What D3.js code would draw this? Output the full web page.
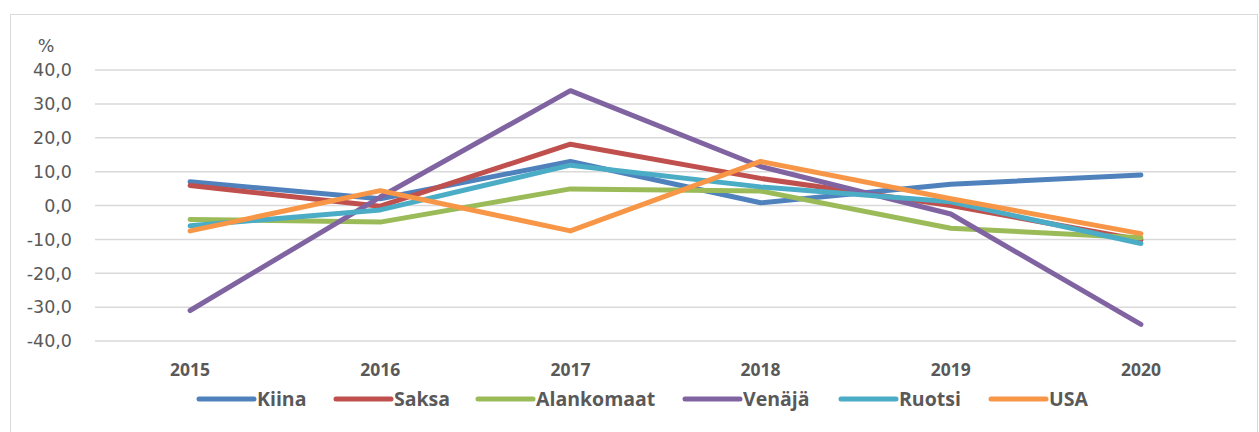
<!DOCTYPE html>
<html>
<head>
<meta charset="utf-8">
<script src="https://cdn.jsdelivr.net/npm/d3@7"></script>
<style>
  body { margin: 0; background: #fff; }
  svg { display: block; }
  .ytick { font-family: "DejaVu Sans", sans-serif; font-size: 17.5px; fill: #595959; }
  .xtick { font-family: "Open Sans", sans-serif; font-weight: bold; font-size: 17.5px; fill: #595959; }
  .legend-text { font-family: "Open Sans", sans-serif; font-weight: bold; font-size: 19.5px; fill: #595959; }
</style>
</head>
<body>
<script>
const years = ['2015', '2016', '2017', '2018', '2019', '2020']
const seriesNames = ['Kiina', 'Saksa', 'Alankomaat', 'Venäjä', 'Ruotsi', 'USA']
const kiina = [7.0, 2.0, 13.0, 0.8, 6.3, 9.0]
const saksa = [5.9, -0.2, 18.1, 8.0, 0.0, -10.2]
const alankomaat = [-4.1, -4.9, 4.9, 4.3, -6.7, -9.5]
const venaja = [-31.0, 2.5, 33.9, 11.5, -2.5, -35.1]
const ruotsi = [-6.0, -1.3, 11.9, 5.5, 1.1, -11.2]
const usa = [-7.5, 4.4, -7.5, 13.0, 2.0, -8.3]
const yTicks = [40, 30, 20, 10, 0, -10, -20, -30, -40]

const colors = ['#4F81BD', '#C0504D', '#9BBB59', '#8064A2', '#4BACC6', '#F79646']
const allValues = [kiina, saksa, alankomaat, venaja, ruotsi, usa]

const fullWidth = 1259
const fullHeight = 432
const plot = { left: 95, right: 1236, top: 70, bottom: 341 }

const svg = d3.select('body')
  .append('svg')
  .attr('width', fullWidth)
  .attr('height', fullHeight)

// chart frame
svg.append('rect')
  .attr('x', 10.5)
  .attr('y', 14.5)
  .attr('width', 1247)
  .attr('height', 430)
  .attr('fill', '#fff')
  .attr('stroke', '#d9d9d9')
  .attr('stroke-width', 1)

const x = d3.scaleBand()
  .domain(years)
  .range([plot.left, plot.right])

const y = d3.scaleLinear()
  .domain([-40, 40])
  .range([plot.bottom, plot.top])

// gridlines
svg.append('g')
  .selectAll('line')
  .data(yTicks)
  .enter().append('line')
  .attr('x1', plot.left)
  .attr('x2', plot.right)
  .attr('y1', d => y(d))
  .attr('y2', d => y(d))
  .attr('stroke', '#d9d9d9')
  .attr('stroke-width', 1.5)

const fmt = d => d3.format('.1f')(d).replace('.', ',').replace('−', '-')

svg.append('g')
  .selectAll('text')
  .data(yTicks)
  .enter().append('text')
  .attr('class', 'ytick')
  .attr('x', 72)
  .attr('y', d => y(d))
  .attr('dy', '0.36em')
  .attr('text-anchor', 'end')
  .text(fmt)

svg.append('text')
  .attr('class', 'ytick')
  .attr('x', 46)
  .attr('y', 46)
  .attr('dy', '0.36em')
  .attr('text-anchor', 'middle')
  .text('%')

svg.append('g')
  .selectAll('text')
  .data(years)
  .enter().append('text')
  .attr('class', 'xtick')
  .attr('x', d => x(d) + x.bandwidth() / 2)
  .attr('y', 376)
  .attr('text-anchor', 'middle')
  .text(d => d)

const line = d3.line()
  .x((d, i) => x(years[i]) + x.bandwidth() / 2)
  .y(d => y(d))

svg.append('g')
  .selectAll('path')
  .data(allValues)
  .enter().append('path')
  .attr('fill', 'none')
  .attr('stroke', (d, i) => colors[i])
  .attr('stroke-width', 5)
  .attr('stroke-linecap', 'round')
  .attr('stroke-linejoin', 'round')
  .attr('d', line)

// legend
const legendX = [198, 335, 477, 684, 840, 990]
const legend = svg.append('g')
  .selectAll('g')
  .data(seriesNames)
  .enter().append('g')
  .attr('transform', (d, i) => `translate(${legendX[i]},399)`)

legend.append('line')
  .attr('x1', 1)
  .attr('x2', 56)
  .attr('stroke', (d, i) => colors[i])
  .attr('stroke-width', 5)
  .attr('stroke-linecap', 'round')

legend.append('text')
  .attr('class', 'legend-text')
  .attr('x', 59)
  .attr('dy', '0.36em')
  .text(d => d)
</script>
</body>
</html>
